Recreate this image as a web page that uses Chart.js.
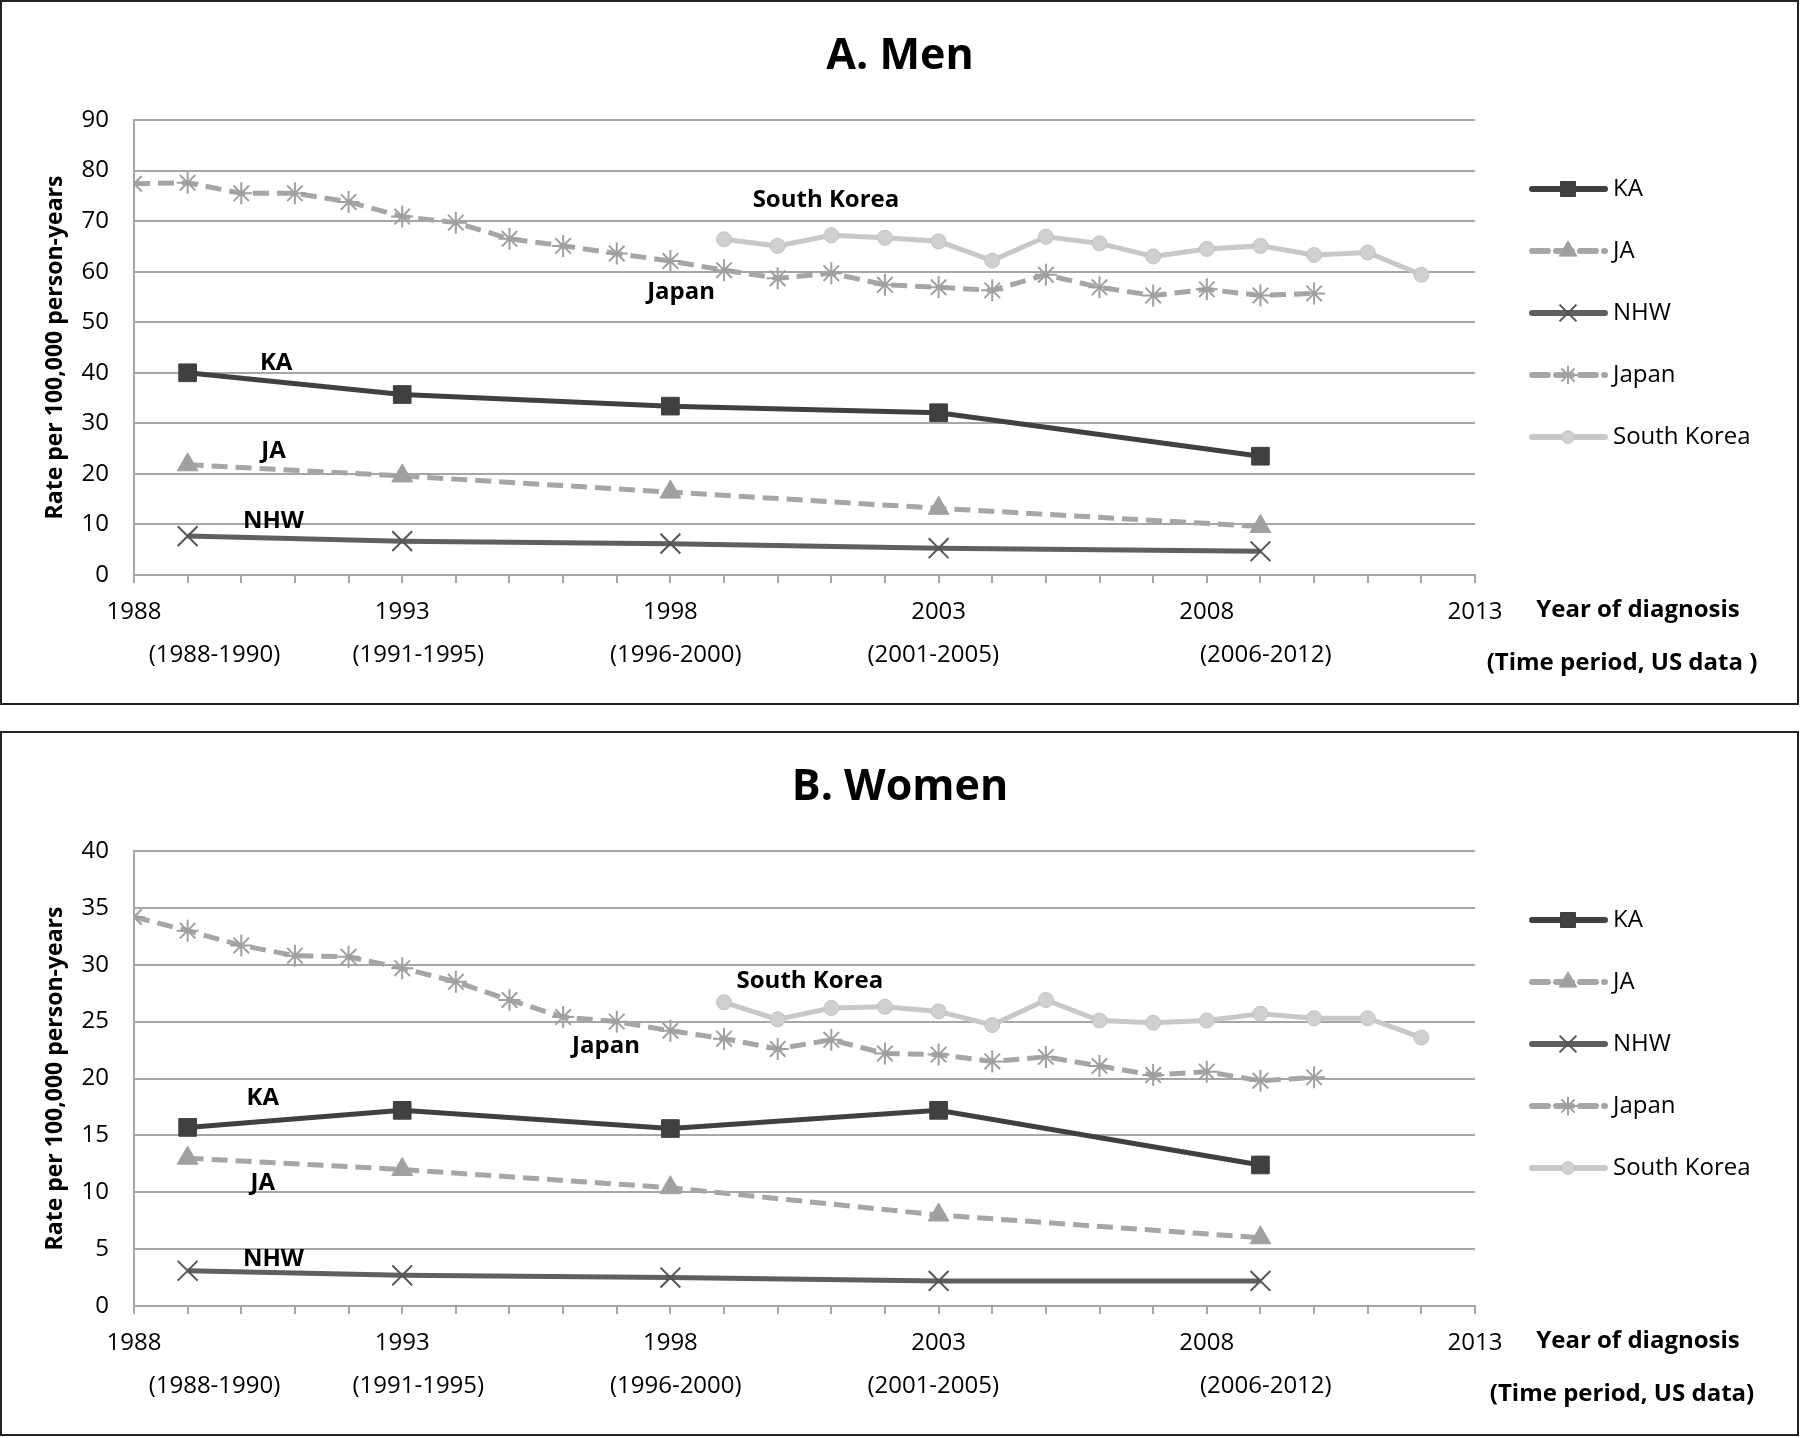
<!DOCTYPE html>
<html>
<head>
<meta charset="utf-8">
<script src="https://cdn.jsdelivr.net/npm/chart.js@4.4.1/dist/chart.umd.min.js"></script>
<style>
  body { margin: 0; background: #fff; }
  canvas { position: absolute; left: 0; }
  #men { top: 0; }
  #women { top: 731px; }
</style>
</head>
<body>
<canvas id="men" width="1800" height="705"></canvas>
<canvas id="women" width="1800" height="705"></canvas>
<script>
// x positions
const usYears = [1989, 1993, 1998, 2003, 2009];
const japanYears = [1988, 1989, 1990, 1991, 1992, 1993, 1994, 1995, 1996, 1997, 1998, 1999,
  2000, 2001, 2002, 2003, 2004, 2005, 2006, 2007, 2008, 2009, 2010];
const koreaYears = [1999, 2000, 2001, 2002, 2003, 2004, 2005, 2006, 2007, 2008, 2009, 2010, 2011, 2012];

// men
const menKA = [40.0, 35.7, 33.4, 32.1, 23.5];
const menJA = [21.8, 19.6, 16.4, 13.2, 9.6];
const menNHW = [7.7, 6.7, 6.2, 5.3, 4.7];
const menJapan = [77.4, 77.6, 75.5, 75.5, 73.8, 70.9, 69.7, 66.5, 65.1, 63.6, 62.1, 60.3,
  58.7, 59.7, 57.4, 56.9, 56.3, 59.4, 56.9, 55.3, 56.5, 55.3, 55.7];
const menKorea = [66.4, 65.1, 67.2, 66.7, 66.0, 62.2, 66.9, 65.6, 63.0, 64.5, 65.1, 63.3, 63.8, 59.4];

// women
const womenKA = [15.7, 17.2, 15.6, 17.2, 12.4];
const womenJA = [13.0, 12.0, 10.4, 8.0, 6.0];
const womenNHW = [3.1, 2.7, 2.5, 2.2, 2.2];
const womenJapan = [34.2, 33.0, 31.7, 30.8, 30.7, 29.7, 28.5, 26.9, 25.4, 25.0, 24.2, 23.5,
  22.6, 23.4, 22.2, 22.1, 21.5, 21.9, 21.1, 20.3, 20.6, 19.8, 20.1];
const womenKorea = [26.7, 25.2, 26.2, 26.3, 25.9, 24.7, 26.9, 25.1, 24.9, 25.1, 25.7, 25.3, 25.3, 23.6];

// period labels under the year ticks
const periodLabels = ['(1988-1990)', '(1991-1995)', '(1996-2000)', '(2001-2005)', '(2006-2012)'];
const periodCenters = [1989.5, 1993.3, 1998.1, 2002.9, 2009.1];

// in-plot labels: [text, year, value]
const menNotes = [['South Korea', 2000.9, 74.2], ['Japan', 1998.2, 56.0], ['KA', 1990.65, 42.0],
  ['JA', 1990.6, 24.5], ['NHW', 1990.6, 10.6]];
const womenNotes = [['South Korea', 2000.6, 28.6], ['Japan', 1996.8, 22.8], ['KA', 1990.4, 18.3],
  ['JA', 1990.4, 10.8], ['NHW', 1990.6, 4.1]];

const FONT = "'Open Sans', 'Liberation Sans', sans-serif";

function pts(xs, ys) {
  return xs.map((x, i) => ({ x: x, y: ys[i] }));
}

const decor = {
  id: 'decor',
  afterDraw(chart, args, opts) {
    const ctx = chart.ctx;
    const xs = chart.scales.x, ys = chart.scales.y;
    ctx.save();

    // frame
    ctx.strokeStyle = '#222';
    ctx.lineWidth = 2;
    ctx.strokeRect(1, 1, chart.width - 3, chart.height - 2);

    ctx.fillStyle = '#000';
    ctx.textAlign = 'center';
    ctx.textBaseline = 'middle';

    ctx.font = 'bold 43px ' + FONT;
    ctx.fillText(opts.title, 900, 57);

    ctx.font = 'bold 24px ' + FONT;
    opts.notes.forEach(n => {
      ctx.fillText(n[0], xs.getPixelForValue(n[1]), ys.getPixelForValue(n[2]));
    });

    ctx.font = '24px ' + FONT;
    periodLabels.forEach((p, i) => {
      ctx.fillText(p, xs.getPixelForValue(periodCenters[i]), 655);
    });

    ctx.font = 'bold 24px ' + FONT;
    ctx.fillText('Year of diagnosis', 1638, 610);
    ctx.fillText(opts.period, 1622, 663);

    // legend
    ctx.textAlign = 'left';
    ctx.font = '24px ' + FONT;
    chart.data.datasets.forEach((ds, i) => {
      const y = 189 + i * 62;
      ctx.save();
      ctx.strokeStyle = ds.borderColor;
      ctx.lineWidth = ds.borderWidth + 1;
      ctx.lineCap = 'round';
      ctx.setLineDash(ds.borderDash || []);
      ctx.beginPath();
      ctx.moveTo(1532, y);
      ctx.lineTo(1605, y);
      ctx.stroke();
      ctx.restore();
      ctx.fillStyle = ds.pointBackgroundColor;
      ctx.strokeStyle = ds.pointBorderColor;
      ctx.lineWidth = ds.pointBorderWidth;
      Chart.helpers.drawPoint(ctx, {
        pointStyle: ds.pointStyle, radius: ds.pointRadius * 0.85, borderWidth: ds.pointBorderWidth, rotation: 0
      }, 1568, y);
      ctx.fillStyle = '#000';
      ctx.fillText(ds.label, 1613, y);
    });

    ctx.restore();
  }
};

function makeChart(id, title, period, data, yMax, yStep, notes) {
  const ctx = document.getElementById(id).getContext('2d');
  return new Chart(ctx, {
    type: 'line',
    data: {
      datasets: [
        {
          label: 'KA',
          data: pts(usYears, data.ka),
          borderColor: '#404040',
          borderWidth: 5,
          pointStyle: 'rect',
          pointRadius: 12.5,
          pointBackgroundColor: '#404040',
          pointBorderColor: '#404040',
          pointBorderWidth: 1
        },
        {
          label: 'JA',
          data: pts(usYears, data.ja),
          borderColor: '#a6a6a6',
          borderWidth: 5,
          borderDash: [16, 8],
          pointStyle: 'triangle',
          pointRadius: 12,
          pointBackgroundColor: '#a0a0a0',
          pointBorderColor: '#a0a0a0',
          pointBorderWidth: 1
        },
        {
          label: 'NHW',
          data: pts(usYears, data.nhw),
          borderColor: '#5f5f5f',
          borderWidth: 5,
          pointStyle: 'crossRot',
          pointRadius: 14,
          pointBackgroundColor: '#555',
          pointBorderColor: '#555',
          pointBorderWidth: 2
        },
        {
          label: 'Japan',
          data: pts(japanYears, data.japan),
          borderColor: '#a6a6a6',
          borderWidth: 5,
          borderDash: [16, 8],
          pointStyle: 'star',
          pointRadius: 11,
          pointBackgroundColor: '#a0a0a0',
          pointBorderColor: '#a0a0a0',
          pointBorderWidth: 2
        },
        {
          label: 'South Korea',
          data: pts(koreaYears, data.korea),
          borderColor: '#c8c8c8',
          borderWidth: 5,
          pointStyle: 'circle',
          pointRadius: 7.5,
          pointBackgroundColor: '#d0d0d0',
          pointBorderColor: '#c2c2c2',
          pointBorderWidth: 1
        }
      ]
    },
    options: {
      responsive: false,
      animation: false,
      devicePixelRatio: 1,
      layout: { padding: { left: 38, top: 120, right: 325, bottom: 70 } },
      plugins: {
        legend: { display: false },
        tooltip: { enabled: false },
        decor: { title: title, period: period, notes: notes }
      },
      scales: {
        x: {
          type: 'linear',
          min: 1988,
          max: 2013,
          afterFit: s => { s.height = 60; },
          ticks: {
            stepSize: 1,
            autoSkip: false,
            maxRotation: 0,
            padding: 15,
            color: '#000',
            font: { family: FONT, size: 24 },
            callback: v => ((v - 1988) % 5 === 0 ? String(v) : '')
          },
          grid: { drawOnChartArea: false, drawTicks: true, tickLength: 8, color: '#a6a6a6', lineWidth: 2 },
          border: { color: '#a6a6a6', width: 2 }
        },
        y: {
          min: 0,
          max: yMax,
          afterFit: s => { s.width = 96; },
          ticks: {
            stepSize: yStep,
            padding: 25,
            color: '#000',
            font: { family: FONT, size: 24 }
          },
          grid: { color: '#a6a6a6', lineWidth: 2, drawTicks: false },
          border: { color: '#a6a6a6', width: 2 },
          title: {
            display: true,
            text: 'Rate per 100,000 person-years',
            color: '#000',
            font: { family: FONT, size: 23, weight: 'bold' }
          }
        }
      }
    },
    plugins: [decor]
  });
}

makeChart('men', 'A. Men', '(Time period, US data )',
  { ka: menKA, ja: menJA, nhw: menNHW, japan: menJapan, korea: menKorea }, 90, 10, menNotes);
makeChart('women', 'B. Women', '(Time period, US data)',
  { ka: womenKA, ja: womenJA, nhw: womenNHW, japan: womenJapan, korea: womenKorea }, 40, 5, womenNotes);
</script>
</body>
</html>
